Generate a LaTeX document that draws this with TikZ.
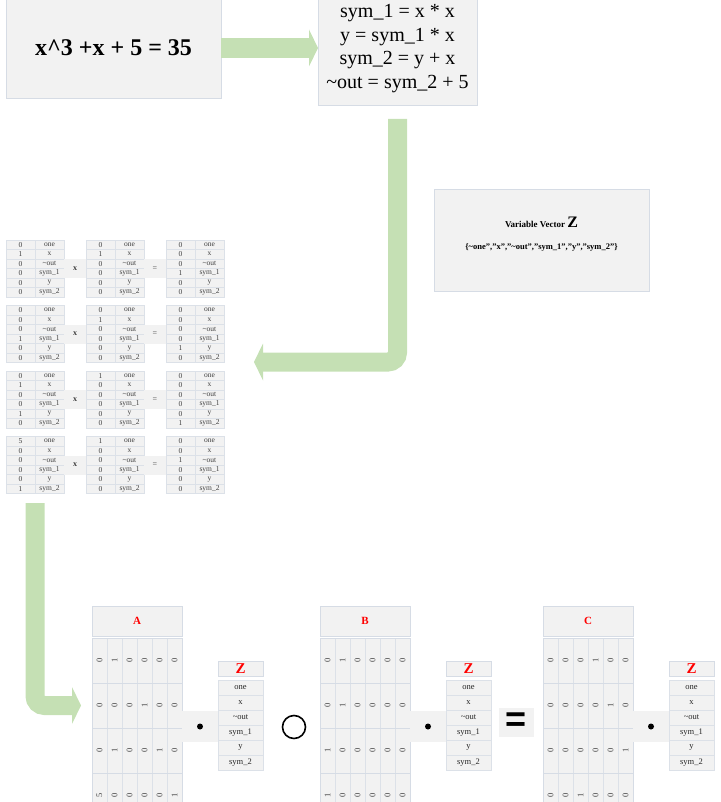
\documentclass[tikz,border=0pt]{standalone}
\usepackage{fontspec}
\setmainfont{Liberation Serif}
\newfontfamily\eqfont{Liberation Sans}
\usetikzlibrary{arrows.meta}

\definecolor{boxgray}{HTML}{F2F2F2}
\definecolor{boxline}{HTML}{D6DCE5}
\definecolor{cellline}{HTML}{DCE1E8}
\definecolor{celltext}{HTML}{404040}
\definecolor{flowgreen}{HTML}{C5E0B4}
\definecolor{headred}{HTML}{FF0000}

\tikzset{
  panel/.style={draw=boxline, fill=boxgray, anchor=north west, inner sep=0pt, outer sep=0pt},
  cell/.style={panel, draw=cellline, minimum width=29pt, minimum height=9.5pt,
    text=celltext, font=\fontsize{7.5}{8}\selectfont},
  opbox/.style={panel, draw=none},
  mhead/.style={panel, minimum width=90pt, minimum height=30pt, text=headred,
    font=\fontsize{11}{11}\selectfont\bfseries},
  mcell/.style={panel, draw=cellline, minimum width=15pt, minimum height=45pt,
    text=celltext, font=\fontsize{8.5}{9}\selectfont},
  zhead/.style={panel, minimum width=45pt, minimum height=15pt, text=headred,
    font=\fontsize{15}{15}\selectfont\bfseries},
  zcell/.style={panel, draw=cellline, minimum width=45pt, minimum height=15pt,
    text=black!85, font=\fontsize{8.5}{9}\selectfont},
  flow/.style={draw=flowgreen, line width=19pt, rounded corners=9.5pt,
    -{Triangle[width=37pt,length=9pt,line width=0pt]}}
}

\begin{document}
\begin{tikzpicture}[x=1pt, y=-1pt]
  \useasboundingbox (0,0) rectangle (720,802);
  \clip (0,0) rectangle (720,802);

  % Equation and flattened code
  \node[panel, minimum width=215pt, minimum height=100pt,
    font=\fontsize{24}{24}\selectfont\bfseries] (eq) at (6,-2)
    {x\textasciicircum3 +x + 5 = 35};
  \node[panel, minimum width=159pt, minimum height=113pt, align=center,
    font=\fontsize{20}{23.5}\selectfont] (code) at (318,-8)
    {sym\_1 = x * x\\ y = sym\_1 * x\\ sym\_2 = y + x\\ \textasciitilde out = sym\_2 + 5};

  % Variable vector box
  \node[panel, minimum width=215pt, minimum height=102pt] (zbox) at (434,189) {};
  \node[font=\fontsize{9}{9}\selectfont\bfseries] (ztitle) at (541.5,222)
    {Variable Vector {\fontsize{16}{16}\selectfont Z}};
  \node[font=\fontsize{8.5}{9}\selectfont\bfseries] (zlist) at (541.5,247)
    {\{\textasciitilde one","x","\textasciitilde out","sym\_1","y","sym\_2"\}};

  % Gate checks: a . z  x  b . z  =  c . z
  \foreach \r/\x/\top/\vals in {
      1/6/240/{0,1,0,0,0,0}, 1/86/240/{0,1,0,0,0,0}, 1/166/240/{0,0,0,1,0,0},
      2/6/305.5/{0,0,0,1,0,0}, 2/86/305.5/{0,1,0,0,0,0}, 2/166/305.5/{0,0,0,0,1,0},
      3/6/371/{0,1,0,0,1,0}, 3/86/371/{1,0,0,0,0,0}, 3/166/371/{0,0,0,0,0,1},
      4/6/436.5/{5,0,0,0,0,1}, 4/86/436.5/{1,0,0,0,0,0}, 4/166/436.5/{0,0,1,0,0,0}} {
    \foreach \v [count=\k] in \vals
      \node[cell] (c\r-\x-\k) at (\x,{\top+9.5*(\k-1)}) {\v};
    \foreach \n [count=\k] in {one,x,\textasciitilde out,sym\_1,y,sym\_2}
      \node[cell] (n\r-\x-\k) at (\x+29,{\top+9.5*(\k-1)}) {\n};
  }
  \foreach \r/\top in {1/240, 2/305.5, 3/371, 4/436.5} {
    \node[opbox, minimum width=22pt, minimum height=19pt, text=celltext,
      font=\fontsize{8}{8}\selectfont\bfseries] (mul\r) at (64,\top+19) {x};
    \node[opbox, minimum width=22pt, minimum height=19pt, text=celltext,
      font=\fontsize{8}{8}\selectfont] (equ\r) at (144,\top+19) {=};
  }

  % Matrices A, B, C times Z
  \foreach \m/\x/\rows in {
      A/92/{{0,1,0,0,0,0},{0,0,0,1,0,0},{0,1,0,0,1,0},{5,0,0,0,0,1}},
      B/320/{{0,1,0,0,0,0},{0,1,0,0,0,0},{1,0,0,0,0,0},{1,0,0,0,0,0}},
      C/543/{{0,0,0,1,0,0},{0,0,0,0,1,0},{0,0,0,0,0,1},{0,0,1,0,0,0}}} {
    \node[mhead] (\m) at (\x,606) {\m};
    \foreach \row [count=\i] in \rows {
      \foreach \v [count=\j] in \row
        \node[mcell] (\m\i\j) at ({\x+15*(\j-1)},{638+45*(\i-1)}) {\rotatebox{90}{\v}};
      \draw[boxline] (\m\i1.north west) rectangle (\m\i6.south east);
    }
    \node[opbox, minimum width=36pt, minimum height=31pt] (dot\m) at (\x+90,711) {};
    \node[circle, fill=black, inner sep=0pt, minimum size=6pt] (dotc\m) at (dot\m.center) {};
    \node[zhead] (z\m) at (\x+126,661) {Z};
    \foreach \n [count=\k] in {one,x,\textasciitilde out,sym\_1,y,sym\_2}
      \node[zcell] (z\m\k) at (\x+126,{680+15*(\k-1)}) {\n};
  }
  \node[circle, draw=black, line width=1.6pt, minimum size=23pt] (had) at (294,727) {};
  \node[opbox, minimum width=35pt, minimum height=29pt,
    font=\fontsize{36}{36}\eqfont\bfseries] (eqs) at (499,708) {=};

  % Flow arrows
  \draw[flow, line width=20pt] (eq.east) -- (eq.east -| code.west);
  \coordinate (tabin) at (254,362);
  \draw[flow] ([yshift=-14pt]code.south) |- (tabin);
  \draw[flow] ([yshift=-9.5pt]c4-6-6.south east) |- ([xshift=-11pt]A21.west);
\end{tikzpicture}
\end{document}
